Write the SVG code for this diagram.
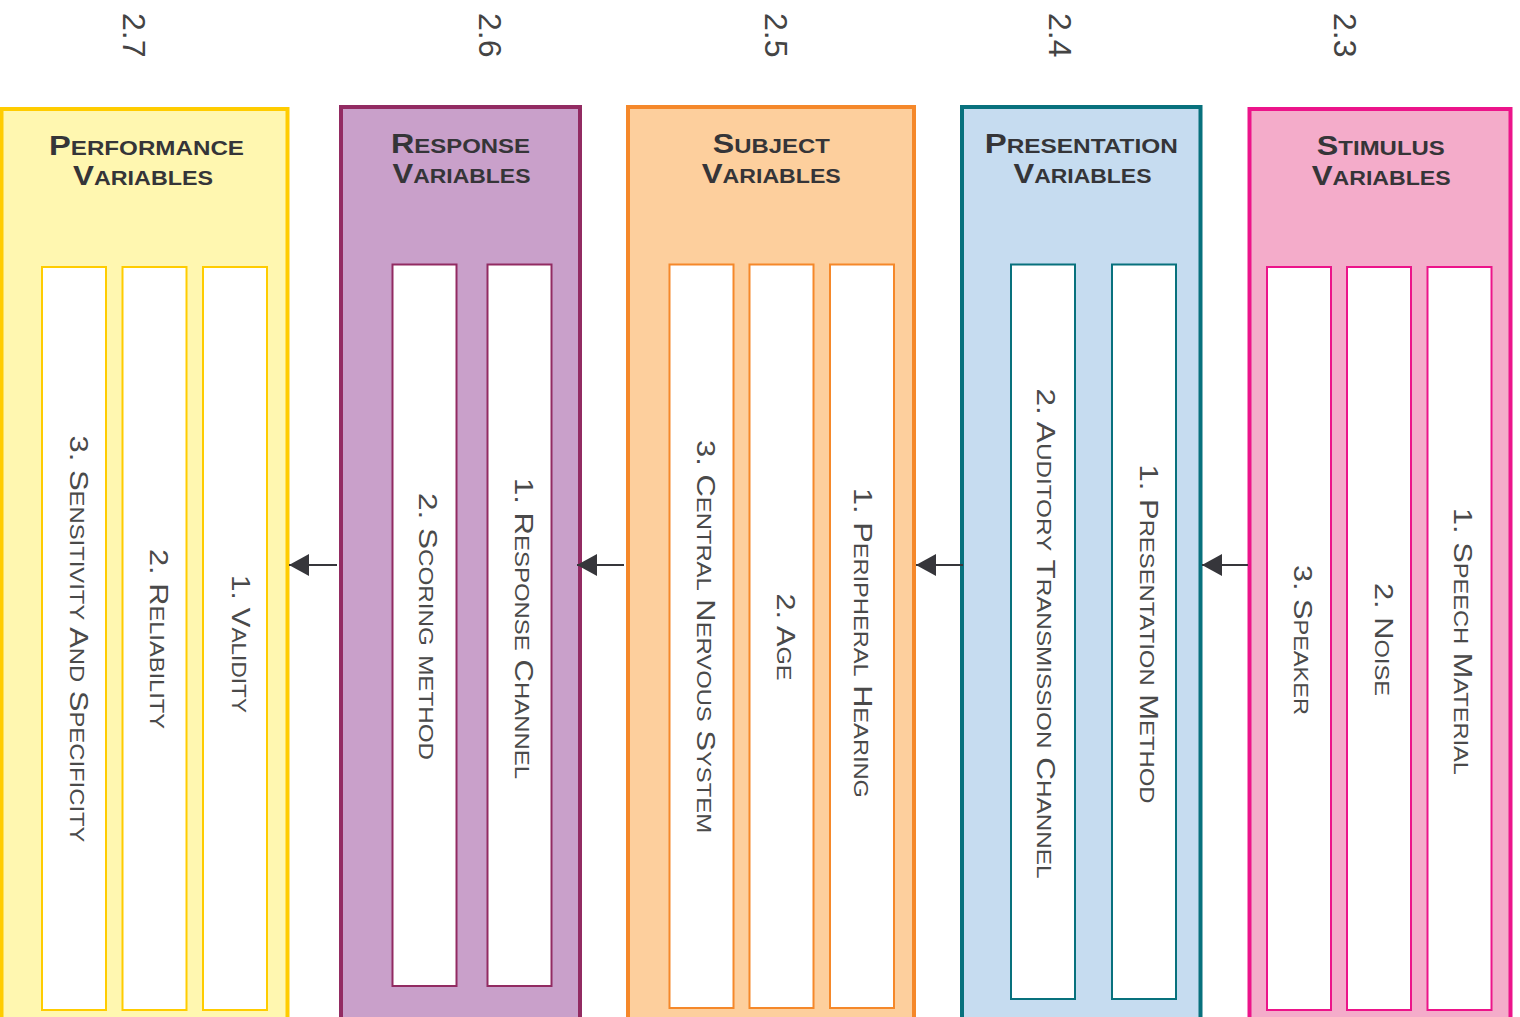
<svg xmlns="http://www.w3.org/2000/svg" width="1520" height="1017" viewBox="0 0 1520 1017">
  <style>
    .num { font-family: "Liberation Sans", Arial, sans-serif; font-size: 32px; fill: #444444; }
    .head { font-family: "Liberation Sans", Arial, sans-serif; font-size: 27px; font-weight: bold; font-variant: small-caps; fill: #353538; text-anchor: middle; }
    .item { font-family: "Liberation Sans", Arial, sans-serif; font-size: 26px; font-variant: small-caps; fill: #4a4a4a; text-anchor: middle; }
    .lc { font-size: 1.08em; }
    .inner { fill: #ffffff; stroke-width: 2; }
    .outer { stroke-width: 4; }
    .link { stroke: #36363b; stroke-width: 2; fill: none; marker-end: url(#head); }
  </style>
  <defs>
    <marker id="head" markerUnits="userSpaceOnUse" markerWidth="20" markerHeight="22" refX="20" refY="11" orient="auto">
      <path d="M0,0 L20,11 L0,22 Z" fill="#36363b"/>
    </marker>
  </defs>

  <rect width="1520" height="1017" fill="#ffffff"/>

  <!-- section numbers -->
  <g id="numbers">
    <text class="num" transform="translate(123,13) rotate(90)">2.7</text>
    <text class="num" transform="translate(479,13) rotate(90)">2.6</text>
    <text class="num" transform="translate(765,13) rotate(90)">2.5</text>
    <text class="num" transform="translate(1049,13) rotate(90)">2.4</text>
    <text class="num" transform="translate(1334,13) rotate(90)">2.3</text>
  </g>

  <!-- Performance variables -->
  <g id="performance">
    <rect class="outer" x="1.5" y="109" width="286" height="930" fill="#fff7b0" stroke="#ffcc00"/>
    <text class="head" x="146.5" y="155" textLength="195" lengthAdjust="spacingAndGlyphs">P<tspan class="lc">erformance</tspan></text>
    <text class="head" x="143" y="185" textLength="140" lengthAdjust="spacingAndGlyphs">V<tspan class="lc">ariables</tspan></text>
    <g stroke="#ffcc00">
      <rect class="inner" x="42" y="267" width="64" height="743"/>
      <rect class="inner" x="122.5" y="267" width="64" height="743"/>
      <rect class="inner" x="203" y="267" width="64" height="743"/>
    </g>
    <text class="item" transform="translate(70,639) rotate(90)" textLength="407" lengthAdjust="spacingAndGlyphs">3. S<tspan class="lc">ensitivity</tspan> A<tspan class="lc">nd</tspan> S<tspan class="lc">pecificity</tspan></text>
    <text class="item" transform="translate(150,639) rotate(90)" textLength="180" lengthAdjust="spacingAndGlyphs">2. R<tspan class="lc">eliability</tspan></text>
    <text class="item" transform="translate(232,644) rotate(90)" textLength="138" lengthAdjust="spacingAndGlyphs">1. V<tspan class="lc">alidity</tspan></text>
  </g>

  <!-- Response variables -->
  <g id="response">
    <rect class="outer" x="341" y="107" width="239" height="930" fill="#c9a0ca" stroke="#922b62"/>
    <text class="head" x="460.5" y="153.3" textLength="139" lengthAdjust="spacingAndGlyphs">R<tspan class="lc">esponse</tspan></text>
    <text class="head" x="461.5" y="183.3" textLength="138" lengthAdjust="spacingAndGlyphs">V<tspan class="lc">ariables</tspan></text>
    <g stroke="#922b62">
      <rect class="inner" x="392.5" y="264.5" width="64" height="721.5"/>
      <rect class="inner" x="487.5" y="264.5" width="64" height="721.5"/>
    </g>
    <text class="item" transform="translate(419,626.5) rotate(90)" textLength="267" lengthAdjust="spacingAndGlyphs">2. S<tspan class="lc">coring method</tspan></text>
    <text class="item" transform="translate(515,628.5) rotate(90)" textLength="301" lengthAdjust="spacingAndGlyphs">1. R<tspan class="lc">esponse</tspan> C<tspan class="lc">hannel</tspan></text>
  </g>

  <!-- Subject variables -->
  <g id="subject">
    <rect class="outer" x="628" y="107" width="286" height="930" fill="#fdcf9d" stroke="#f5882a"/>
    <text class="head" x="771.3" y="153.3" textLength="117" lengthAdjust="spacingAndGlyphs">S<tspan class="lc">ubject</tspan></text>
    <text class="head" x="771.3" y="183.3" textLength="139" lengthAdjust="spacingAndGlyphs">V<tspan class="lc">ariables</tspan></text>
    <g stroke="#f5882a">
      <rect class="inner" x="669.5" y="264.5" width="64" height="743.5"/>
      <rect class="inner" x="749.5" y="264.5" width="64" height="743.5"/>
      <rect class="inner" x="830" y="264.5" width="64" height="743.5"/>
    </g>
    <text class="item" transform="translate(697,636.5) rotate(90)" textLength="393" lengthAdjust="spacingAndGlyphs">3. C<tspan class="lc">entral</tspan> N<tspan class="lc">ervous</tspan> S<tspan class="lc">ystem</tspan></text>
    <text class="item" transform="translate(777,637) rotate(90)" textLength="87" lengthAdjust="spacingAndGlyphs">2. A<tspan class="lc">ge</tspan></text>
    <text class="item" transform="translate(854,643) rotate(90)" textLength="310" lengthAdjust="spacingAndGlyphs">1. P<tspan class="lc">eripheral</tspan> H<tspan class="lc">earing</tspan></text>
  </g>

  <!-- Presentation variables -->
  <g id="presentation">
    <rect class="outer" x="962" y="107" width="238.5" height="930" fill="#c6dcf0" stroke="#08717d"/>
    <text class="head" x="1081.3" y="153.3" textLength="193" lengthAdjust="spacingAndGlyphs">P<tspan class="lc">resentation</tspan></text>
    <text class="head" x="1082.5" y="183.3" textLength="138" lengthAdjust="spacingAndGlyphs">V<tspan class="lc">ariables</tspan></text>
    <g stroke="#08717d">
      <rect class="inner" x="1011" y="264.5" width="64" height="734.5"/>
      <rect class="inner" x="1112" y="264.5" width="64" height="734.5"/>
    </g>
    <text class="item" transform="translate(1037,633.5) rotate(90)" textLength="490" lengthAdjust="spacingAndGlyphs">2. A<tspan class="lc">uditory</tspan> T<tspan class="lc">ransmission</tspan> C<tspan class="lc">hannel</tspan></text>
    <text class="item" transform="translate(1140,634) rotate(90)" textLength="339" lengthAdjust="spacingAndGlyphs">1. P<tspan class="lc">resentation</tspan> M<tspan class="lc">ethod</tspan></text>
  </g>

  <!-- Stimulus variables -->
  <g id="stimulus">
    <rect class="outer" x="1249.5" y="109" width="261" height="930" fill="#f4acca" stroke="#ec148a"/>
    <text class="head" x="1380.8" y="155" textLength="128" lengthAdjust="spacingAndGlyphs">S<tspan class="lc">timulus</tspan></text>
    <text class="head" x="1381.2" y="185" textLength="139" lengthAdjust="spacingAndGlyphs">V<tspan class="lc">ariables</tspan></text>
    <g stroke="#ec148a">
      <rect class="inner" x="1267" y="267" width="64" height="743"/>
      <rect class="inner" x="1347" y="267" width="64" height="743"/>
      <rect class="inner" x="1427.5" y="267" width="64" height="743"/>
    </g>
    <text class="item" transform="translate(1294,640) rotate(90)" textLength="150" lengthAdjust="spacingAndGlyphs">3. S<tspan class="lc">peaker</tspan></text>
    <text class="item" transform="translate(1375,639.5) rotate(90)" textLength="113" lengthAdjust="spacingAndGlyphs">2. N<tspan class="lc">oise</tspan></text>
    <text class="item" transform="translate(1454,641.5) rotate(90)" textLength="267" lengthAdjust="spacingAndGlyphs">1. S<tspan class="lc">peech</tspan> M<tspan class="lc">aterial</tspan></text>
  </g>

  <!-- connectors: each group feeds the one to its left -->
  <g id="connectors">
    <path class="link" d="M1248,565 H1202"/>
    <path class="link" d="M963,565 H916"/>
    <path class="link" d="M624,565 H577"/>
    <path class="link" d="M337,565 H289"/>
  </g>
</svg>
